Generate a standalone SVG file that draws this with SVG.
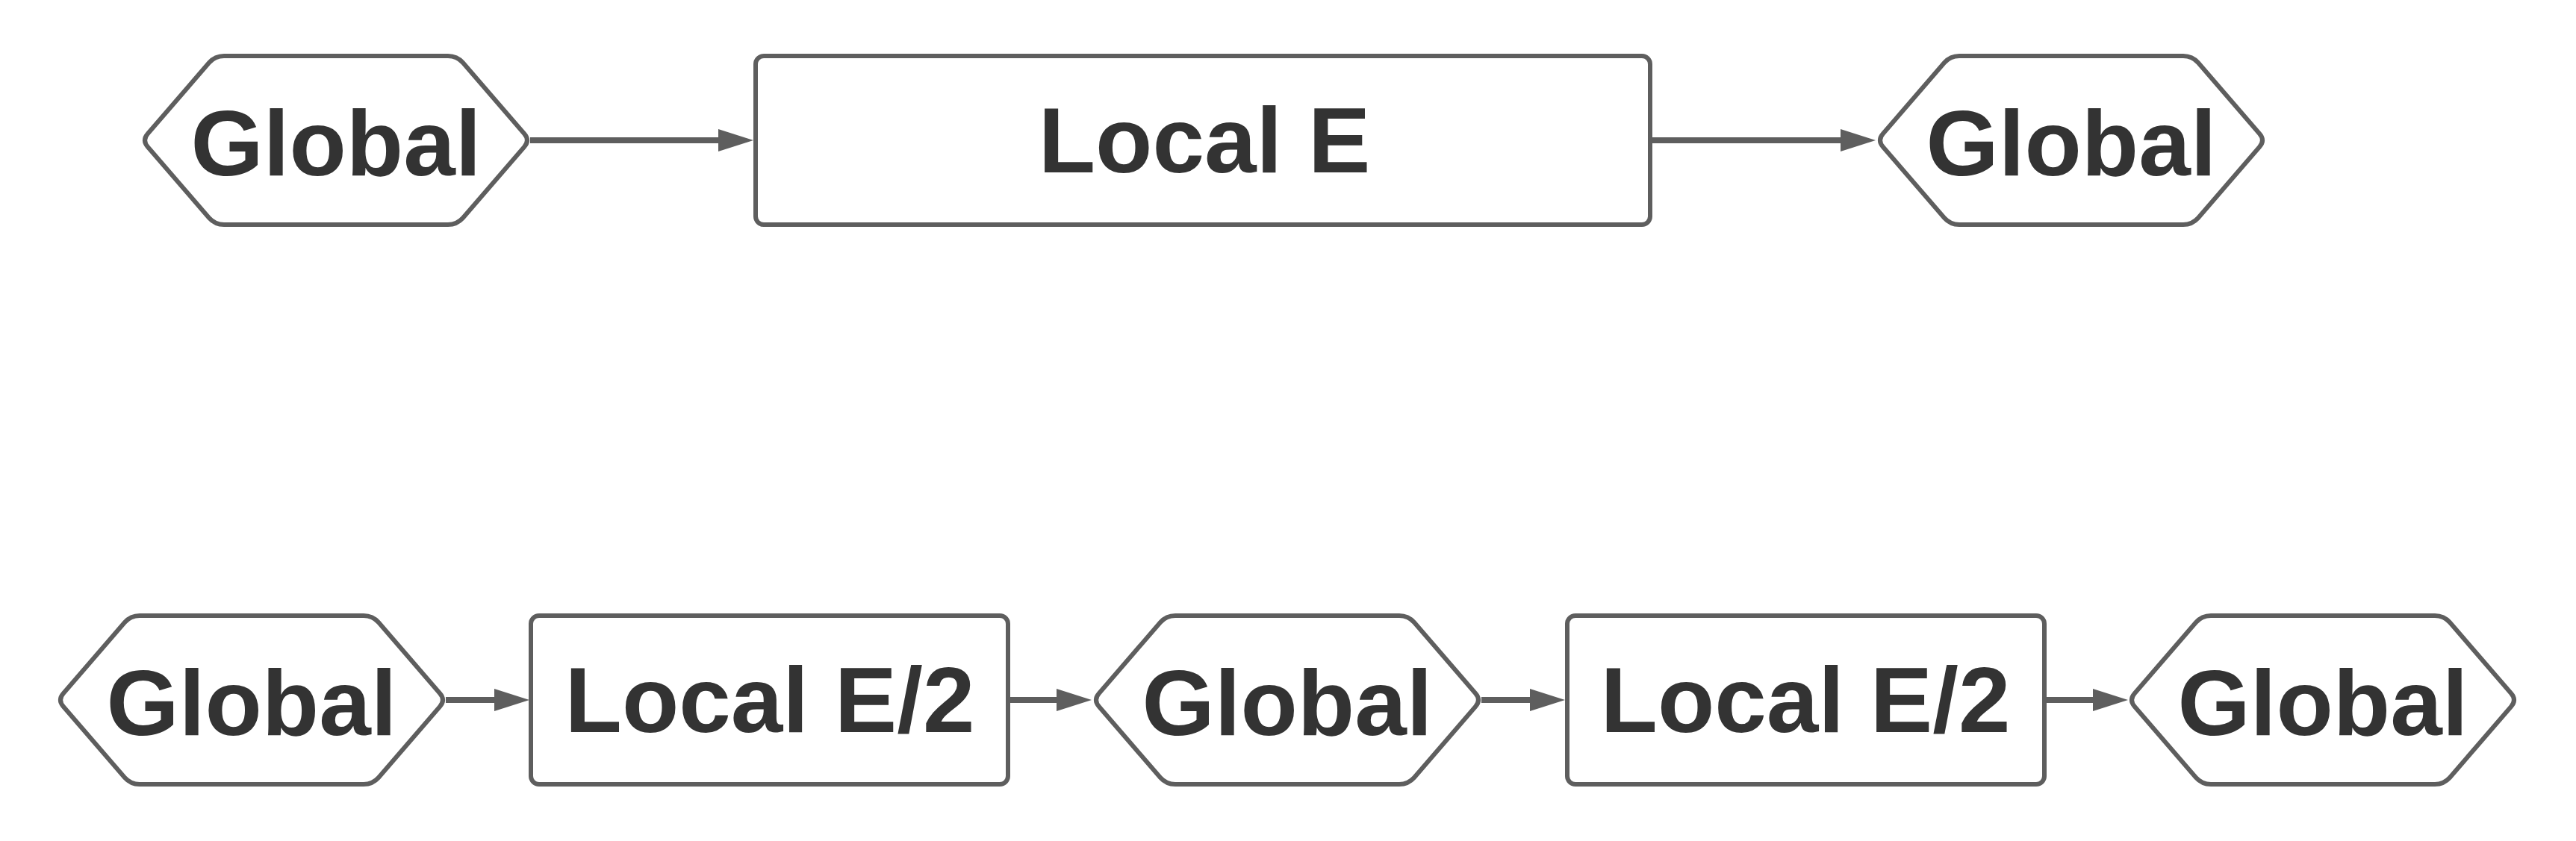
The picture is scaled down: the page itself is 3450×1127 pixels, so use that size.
<svg xmlns="http://www.w3.org/2000/svg" width="3450" height="1127" viewBox="0 0 3450 1127">
<style>
.shape{fill:#ffffff;stroke:#5e5e5e;stroke-width:6}
.lbl{font-family:"Liberation Sans",Arial,sans-serif;font-weight:bold;font-size:125px;fill:#333333;text-anchor:middle}
.conn{stroke:#5e5e5e;stroke-width:8;fill:none}
</style>
<defs>
<path id="hex" d="M-252,-9 L-170,-104 Q-162,-113 -150,-113 L150,-113 Q162,-113 170,-104 L252,-9 Q260,0 252,9 L170,104 Q162,113 150,113 L-150,113 Q-162,113 -170,104 L-252,9 Q-260,0 -252,-9 Z"/>
<marker id="arr" markerUnits="userSpaceOnUse" markerWidth="47" markerHeight="30" refX="17" refY="15" orient="auto" viewBox="0 0 47 30">
<path d="M0,0 L47,15 L0,30 Z" fill="#5e5e5e"/>
</marker>
</defs>
<rect width="3450" height="1127" fill="#ffffff"/>
<g id="connectors">
<line class="conn" x1="710" y1="188" x2="979" y2="188" marker-end="url(#arr)"/>
<line class="conn" x1="2210" y1="188" x2="2482" y2="188" marker-end="url(#arr)"/>
<line class="conn" x1="597" y1="938" x2="679" y2="938" marker-end="url(#arr)"/>
<line class="conn" x1="1350" y1="938" x2="1432" y2="938" marker-end="url(#arr)"/>
<line class="conn" x1="1984" y1="938" x2="2066" y2="938" marker-end="url(#arr)"/>
<line class="conn" x1="2738" y1="938" x2="2820" y2="938" marker-end="url(#arr)"/>
</g>
<g id="top-global-1">
<use href="#hex" class="shape" transform="translate(450,188)"/>
<text class="lbl" x="450" y="235">Global</text>
</g>
<g id="top-local-e">
<rect class="shape" x="1012" y="75" width="1198" height="226" rx="11"/>
<text class="lbl" x="1613" y="231">Local E</text>
</g>
<g id="top-global-2">
<use href="#hex" class="shape" transform="translate(2774,188)"/>
<text class="lbl" x="2774" y="235">Global</text>
</g>
<g id="bottom-global-1">
<use href="#hex" class="shape" transform="translate(337,938)"/>
<text class="lbl" x="337" y="985">Global</text>
</g>
<g id="bottom-local-1">
<rect class="shape" x="711" y="825" width="639" height="226" rx="11"/>
<text class="lbl" x="1031" y="981">Local E/2</text>
</g>
<g id="bottom-global-2">
<use href="#hex" class="shape" transform="translate(1724,938)"/>
<text class="lbl" x="1724" y="985">Global</text>
</g>
<g id="bottom-local-2">
<rect class="shape" x="2099" y="825" width="639" height="226" rx="11"/>
<text class="lbl" x="2418" y="981">Local E/2</text>
</g>
<g id="bottom-global-3">
<use href="#hex" class="shape" transform="translate(3111,938)"/>
<text class="lbl" x="3111" y="985">Global</text>
</g>
</svg>
